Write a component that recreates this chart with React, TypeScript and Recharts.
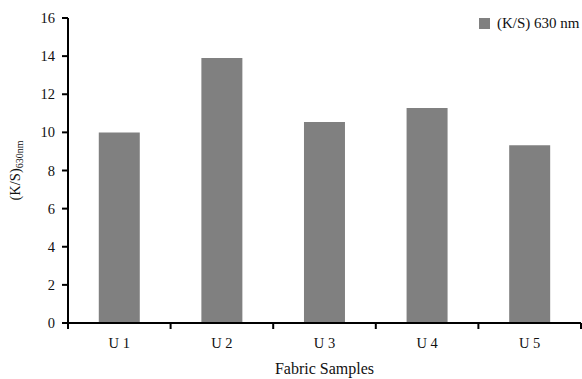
import { BarChart, Bar, XAxis, YAxis, Legend, Label } from 'recharts'

const samples = ['U 1', 'U 2', 'U 3', 'U 4', 'U 5']
const ksValues = [10.0, 13.9, 10.55, 11.28, 9.33]
const yTicks = [0, 2, 4, 6, 8, 10, 12, 14, 16]

const rows = samples.map((sample, i) => ({ sample, ks: ksValues[i] }))

const FONT = 'Liberation Serif'
const INK = '#111'
const W = 582
const H = 379
const LEFT = 68
const RIGHT = 1
const BAND = (W - LEFT - RIGHT) / samples.length

function SampleTick(props: any) {
  const { x, y, payload, index, visibleTicksCount } = props
  const half = BAND / 2
  return (
    <g>
      <line x1={x - half} x2={x - half} y1={y} y2={y + 6} stroke="#000" strokeWidth={2} />
      {index === visibleTicksCount - 1 && (
        <line x1={x + half} x2={x + half} y1={y} y2={y + 6} stroke="#000" strokeWidth={2} />
      )}
      <text x={x} y={y + 25} textAnchor="middle" style={{ fontFamily: FONT, fontSize: 14.5 }} fill={INK}>
        {payload.value}
      </text>
    </g>
  )
}

function ValueTick(props: any) {
  const { x, y, payload } = props
  return (
    <text x={x} y={y + 5} textAnchor="end" style={{ fontFamily: FONT, fontSize: 14.5 }} fill={INK}>
      {payload.value}
    </text>
  )
}

function XTitle(props: any) {
  const { viewBox } = props
  return (
    <text x={viewBox.x + viewBox.width / 2} y={374} textAnchor="middle" style={{ fontFamily: FONT, fontSize: 16 }} fill={INK}>
      Fabric Samples
    </text>
  )
}

function YTitle(props: any) {
  const { viewBox } = props
  const cy = viewBox.y + viewBox.height / 2
  return (
    <text transform={`translate(20, ${cy}) rotate(-90)`} textAnchor="middle" style={{ fontFamily: FONT, fontSize: 14.5 }} fill={INK}>
      (K/S)<tspan style={{ fontSize: 10 }} dy={3}>630nm</tspan>
    </text>
  )
}

function KeyBox() {
  return (
    <div style={{ display: 'flex', alignItems: 'center', fontFamily: FONT, fontSize: 15, color: INK, whiteSpace: 'nowrap' }}>
      <span style={{ display: 'inline-block', width: 11, height: 11, background: '#808080', marginRight: 7 }} />
      (K/S) 630 nm
    </div>
  )
}

export default function App() {
  return (
    <div style={{ position: 'absolute', left: 0, top: 0, background: '#fff', fontFamily: FONT }}>
      <BarChart
        width={W}
        height={H}
        data={rows}
        margin={{ top: 18, right: RIGHT, left: 0, bottom: 0 }}
        barCategoryGap="30%"
      >
        <XAxis
          dataKey="sample"
          height={56}
          tick={<SampleTick />}
          tickLine={false}
          tickSize={0}
          tickMargin={0}
          interval={0}
          axisLine={{ stroke: '#000', strokeWidth: 2 }}
        >
          <Label content={<XTitle />} />
        </XAxis>
        <YAxis
          width={LEFT}
          domain={[0, 16]}
          ticks={yTicks}
          interval={0}
          tickSize={6}
          tickMargin={7}
          tick={<ValueTick />}
          tickLine={{ stroke: '#000', strokeWidth: 2 }}
          axisLine={{ stroke: '#000', strokeWidth: 2 }}
        >
          <Label content={<YTitle />} />
        </YAxis>
        <Legend
          layout="vertical"
          verticalAlign="middle"
          align="center"
          content={<KeyBox />}
          wrapperStyle={{ top: 15, left: 479, width: 110 }}
        />
        <Bar dataKey="ks" fill="#808080" isAnimationActive={false} />
      </BarChart>
    </div>
  )
}
